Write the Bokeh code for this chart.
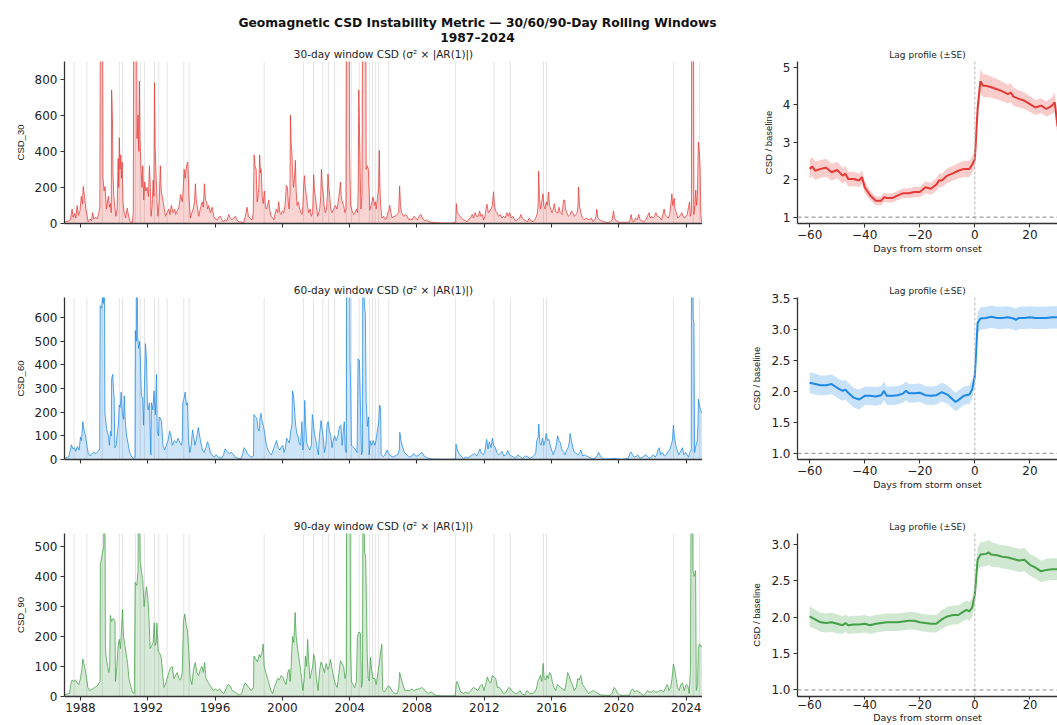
import numpy as np
from bokeh.plotting import figure
from bokeh.layouts import column, row
from bokeh.models import (Range1d, FixedTicker, Label, Span, CustomJSTickFormatter,
                          PrintfTickFormatter, Title)
from bokeh.embed import file_html
from bokeh.resources import INLINE

# ---------------- data ----------------
TITLE = "Geomagnetic CSD Instability Metric \u2014 30/60/90-Day Rolling Windows"
SUBTITLE = "1987\u20132024"

storm_years = [1987.62, 1988.38, 1989.29, 1990.31, 1990.50, 1991.27, 1991.55, 1991.80,
               1992.40, 1992.65, 1993.15, 1994.14, 1994.45, 1998.92, 2001.25, 2001.85,
               2002.40, 2002.75, 2003.10, 2003.80, 2004.10, 2004.56, 2005.17, 2005.36,
               2005.52, 2005.72, 2006.32, 2010.30, 2012.58, 2013.55, 2015.52, 2015.70,
               2023.25, 2024.42, 2024.80]

csd30_pts = [
    (1987.00, 8), (1987.25, 12), (1987.40, 20), (1987.50, 80), (1987.56, 35), (1987.65, 55),
    (1987.72, 30), (1987.80, 100), (1987.88, 45), (1987.97, 70), (1988.05, 150), (1988.12, 110),
    (1988.16, 205), (1988.24, 150), (1988.32, 80), (1988.40, 40), (1988.46, 10), (1988.58, 25),
    (1988.66, 15), (1988.72, 60), (1988.80, 25), (1988.90, 35), (1989.00, 25), (1989.08, 55),
    (1989.15, 90), (1989.19, 1400), (1989.31, 1400), (1989.34, 250), (1989.40, 180), (1989.46, 205),
    (1989.54, 80), (1989.60, 120), (1989.66, 150), (1989.72, 90), (1989.78, 110), (1989.83, 60),
    (1989.85, 740), (1989.90, 580), (1989.93, 280), (1989.98, 150), (1990.03, 100), (1990.10, 40),
    (1990.18, 80), (1990.24, 360), (1990.27, 200), (1990.31, 475), (1990.35, 300), (1990.40, 380),
    (1990.43, 250), (1990.48, 340), (1990.53, 120), (1990.60, 60), (1990.68, 30), (1990.78, 85),
    (1990.86, 40), (1990.95, 10), (1991.08, 5), (1991.14, 60), (1991.17, 1400), (1991.33, 1400),
    (1991.36, 470), (1991.42, 600), (1991.46, 400), (1991.50, 790), (1991.54, 470), (1991.60, 300),
    (1991.66, 200), (1991.70, 320), (1991.76, 130), (1991.82, 230), (1991.88, 180), (1991.96, 200),
    (1992.04, 150), (1992.10, 320), (1992.15, 200), (1992.20, 40), (1992.26, 100), (1992.32, 240),
    (1992.36, 150), (1992.40, 780), (1992.44, 420), (1992.50, 250), (1992.55, 120), (1992.60, 40),
    (1992.68, 120), (1992.75, 320), (1992.80, 180), (1992.86, 150), (1992.95, 100), (1993.05, 40),
    (1993.15, 60), (1993.25, 80), (1993.32, 50), (1993.40, 100), (1993.50, 60), (1993.60, 80),
    (1993.66, 50), (1993.75, 70), (1993.85, 90), (1993.95, 160), (1994.05, 120), (1994.10, 180),
    (1994.16, 300), (1994.22, 250), (1994.30, 320), (1994.38, 340), (1994.45, 150), (1994.53, 30),
    (1994.62, 60), (1994.70, 80), (1994.78, 120), (1994.83, 220), (1994.88, 130), (1994.93, 100),
    (1995.03, 40), (1995.12, 80), (1995.23, 120), (1995.30, 90), (1995.37, 220), (1995.43, 130),
    (1995.49, 120), (1995.56, 80), (1995.62, 100), (1995.72, 60), (1995.82, 90), (1995.92, 40),
    (1996.02, 25), (1996.12, 20), (1996.22, 35), (1996.32, 40), (1996.40, 20), (1996.48, 10),
    (1996.60, 20), (1996.70, 15), (1996.81, 50), (1996.90, 30), (1997.00, 20), (1997.10, 30),
    (1997.20, 40), (1997.30, 20), (1997.40, 10), (1997.55, 8), (1997.70, 5), (1997.80, 40),
    (1997.90, 90), (1997.98, 40), (1998.06, 30), (1998.20, 20), (1998.27, 60), (1998.32, 380),
    (1998.37, 320), (1998.44, 300), (1998.50, 120), (1998.55, 150), (1998.60, 200), (1998.65, 380),
    (1998.70, 280), (1998.74, 300), (1998.80, 150), (1998.86, 110), (1998.93, 180), (1999.00, 90),
    (1999.05, 80), (1999.12, 100), (1999.19, 130), (1999.26, 70), (1999.33, 40), (1999.42, 30),
    (1999.49, 20), (1999.56, 50), (1999.64, 80), (1999.72, 60), (1999.78, 120), (1999.85, 60),
    (1999.92, 50), (2000.00, 70), (2000.08, 60), (2000.16, 100), (2000.24, 210), (2000.30, 200),
    (2000.35, 120), (2000.40, 80), (2000.45, 160), (2000.48, 600), (2000.52, 450), (2000.56, 400),
    (2000.60, 300), (2000.66, 200), (2000.72, 250), (2000.77, 350), (2000.82, 180), (2000.87, 100),
    (2000.95, 120), (2001.03, 80), (2001.10, 60), (2001.17, 50), (2001.22, 100), (2001.27, 220),
    (2001.31, 265), (2001.36, 200), (2001.43, 150), (2001.50, 90), (2001.57, 60), (2001.65, 80),
    (2001.72, 40), (2001.80, 60), (2001.86, 270), (2001.91, 180), (2001.96, 150), (2002.03, 90),
    (2002.10, 40), (2002.16, 60), (2002.22, 80), (2002.28, 150), (2002.32, 300), (2002.37, 200),
    (2002.42, 180), (2002.48, 100), (2002.55, 60), (2002.62, 80), (2002.67, 150), (2002.71, 275),
    (2002.76, 200), (2002.81, 150), (2002.88, 80), (2002.95, 60), (2003.05, 80), (2003.15, 100),
    (2003.25, 80), (2003.35, 140), (2003.40, 180), (2003.45, 230), (2003.50, 150), (2003.56, 120),
    (2003.64, 100), (2003.72, 60), (2003.78, 80), (2003.81, 1400), (2003.97, 1400), (2003.99, 440),
    (2004.02, 250), (2004.06, 100), (2004.14, 70), (2004.24, 50), (2004.32, 60), (2004.40, 80),
    (2004.47, 60), (2004.51, 200), (2004.54, 740), (2004.59, 478), (2004.63, 250), (2004.67, 80),
    (2004.73, 150), (2004.78, 1400), (2004.95, 1400), (2004.98, 300), (2005.05, 320), (2005.11, 300),
    (2005.15, 200), (2005.19, 73), (2005.27, 100), (2005.33, 120), (2005.39, 147), (2005.47, 100),
    (2005.53, 120), (2005.58, 80), (2005.66, 150), (2005.72, 200), (2005.76, 404), (2005.80, 200),
    (2005.84, 100), (2005.92, 30), (2006.02, 40), (2006.12, 20), (2006.20, 30), (2006.26, 60),
    (2006.33, 70), (2006.38, 100), (2006.45, 60), (2006.52, 30), (2006.62, 40), (2006.71, 40),
    (2006.80, 50), (2006.91, 60), (2006.97, 208), (2007.02, 100), (2007.08, 60), (2007.21, 40),
    (2007.32, 50), (2007.42, 40), (2007.52, 20), (2007.62, 25), (2007.72, 20), (2007.82, 40),
    (2007.92, 30), (2008.02, 20), (2008.12, 40), (2008.24, 50), (2008.34, 25), (2008.46, 15),
    (2008.58, 20), (2008.70, 10), (2008.84, 8), (2009.00, 5), (2009.20, 4), (2009.40, 3),
    (2009.60, 2), (2009.80, 3), (2010.00, 2), (2010.18, 4), (2010.30, 10), (2010.34, 110),
    (2010.40, 60), (2010.48, 50), (2010.56, 40), (2010.66, 30), (2010.76, 20), (2010.88, 15),
    (2010.98, 10), (2011.08, 25), (2011.18, 30), (2011.28, 50), (2011.36, 30), (2011.46, 60),
    (2011.54, 40), (2011.64, 40), (2011.72, 70), (2011.80, 40), (2011.88, 50), (2011.96, 20),
    (2012.04, 40), (2012.10, 80), (2012.16, 107), (2012.24, 60), (2012.32, 70), (2012.40, 80),
    (2012.48, 100), (2012.55, 175), (2012.60, 110), (2012.67, 70), (2012.75, 60), (2012.85, 40),
    (2012.95, 50), (2013.05, 30), (2013.15, 40), (2013.25, 30), (2013.35, 60), (2013.43, 40),
    (2013.51, 60), (2013.60, 30), (2013.70, 40), (2013.80, 20), (2013.90, 15), (2014.00, 25),
    (2014.10, 30), (2014.17, 50), (2014.27, 30), (2014.37, 20), (2014.47, 15), (2014.57, 10),
    (2014.67, 30), (2014.77, 15), (2014.90, 10), (2015.00, 20), (2015.10, 40), (2015.16, 60),
    (2015.20, 100), (2015.23, 290), (2015.28, 150), (2015.34, 80), (2015.42, 120), (2015.49, 165),
    (2015.54, 100), (2015.61, 80), (2015.68, 120), (2015.75, 100), (2015.82, 175), (2015.88, 100),
    (2015.94, 80), (2016.02, 60), (2016.10, 80), (2016.16, 110), (2016.23, 70), (2016.30, 60),
    (2016.38, 60), (2016.44, 90), (2016.52, 60), (2016.62, 50), (2016.71, 129), (2016.77, 130),
    (2016.83, 80), (2016.90, 60), (2017.00, 40), (2017.10, 50), (2017.18, 70), (2017.26, 60),
    (2017.36, 40), (2017.44, 50), (2017.52, 60), (2017.57, 100), (2017.60, 202), (2017.66, 100),
    (2017.74, 60), (2017.84, 30), (2017.94, 20), (2018.04, 30), (2018.14, 25), (2018.24, 20),
    (2018.36, 30), (2018.46, 10), (2018.56, 20), (2018.64, 40), (2018.69, 79), (2018.76, 30),
    (2018.86, 20), (2018.98, 15), (2019.08, 10), (2019.22, 8), (2019.36, 5), (2019.48, 10),
    (2019.60, 20), (2019.68, 70), (2019.74, 30), (2019.84, 15), (2019.96, 10), (2020.08, 5),
    (2020.22, 8), (2020.38, 5), (2020.52, 8), (2020.64, 10), (2020.73, 50), (2020.80, 15),
    (2020.90, 10), (2021.00, 30), (2021.10, 20), (2021.18, 50), (2021.26, 20), (2021.36, 15),
    (2021.48, 10), (2021.60, 20), (2021.70, 40), (2021.80, 60), (2021.86, 30), (2021.94, 40),
    (2022.02, 30), (2022.12, 40), (2022.20, 60), (2022.28, 40), (2022.36, 40), (2022.46, 30),
    (2022.54, 20), (2022.62, 50), (2022.69, 80), (2022.75, 50), (2022.84, 40), (2022.94, 30),
    (2023.02, 50), (2023.08, 100), (2023.12, 130), (2023.15, 165), (2023.20, 100), (2023.29, 140),
    (2023.34, 80), (2023.42, 60), (2023.50, 30), (2023.60, 40), (2023.68, 50), (2023.74, 60),
    (2023.82, 40), (2023.90, 30), (2023.98, 40), (2024.06, 50), (2024.14, 90), (2024.20, 120),
    (2024.25, 40), (2024.31, 60), (2024.33, 1400), (2024.43, 1400), (2024.46, 50), (2024.52, 100),
    (2024.57, 185), (2024.62, 100), (2024.67, 150), (2024.72, 450), (2024.78, 400), (2024.83, 300),
    (2024.87, 50), (2024.92, 10), (2024.97, 5),
]

csd60_pts = [
    (1987.00, 5), (1987.30, 10), (1987.40, 40), (1987.46, 62), (1987.55, 45), (1987.65, 50),
    (1987.72, 35), (1987.82, 55), (1987.92, 40), (1988.00, 95), (1988.06, 80), (1988.14, 160),
    (1988.22, 120), (1988.30, 100), (1988.40, 50), (1988.47, 25), (1988.58, 15), (1988.68, 25),
    (1988.80, 30), (1988.92, 25), (1989.05, 35), (1989.14, 45), (1989.17, 650), (1989.26, 640),
    (1989.32, 700), (1989.36, 660), (1989.42, 900), (1989.45, 200), (1989.52, 150), (1989.58, 120),
    (1989.66, 100), (1989.72, 60), (1989.78, 120), (1989.83, 100), (1989.85, 340), (1989.92, 360),
    (1989.96, 300), (1990.00, 260), (1990.04, 50), (1990.12, 60), (1990.20, 120), (1990.26, 150),
    (1990.30, 230), (1990.36, 220), (1990.42, 285), (1990.48, 200), (1990.56, 170), (1990.60, 270),
    (1990.66, 165), (1990.74, 100), (1990.82, 70), (1990.92, 30), (1991.05, 10), (1991.18, 5),
    (1991.24, 10), (1991.26, 545), (1991.32, 500), (1991.36, 900), (1991.40, 520), (1991.46, 470),
    (1991.52, 500), (1991.57, 400), (1991.62, 270), (1991.70, 260), (1991.75, 145), (1991.80, 300),
    (1991.86, 490), (1991.92, 430), (1991.98, 230), (1992.02, 210), (1992.10, 240), (1992.18, 20),
    (1992.22, 240), (1992.30, 210), (1992.37, 290), (1992.45, 190), (1992.52, 360), (1992.56, 120),
    (1992.63, 100), (1992.68, 180), (1992.75, 175), (1992.82, 160), (1992.90, 60), (1993.00, 40),
    (1993.10, 60), (1993.20, 80), (1993.30, 120), (1993.38, 100), (1993.46, 60), (1993.58, 80),
    (1993.70, 70), (1993.80, 90), (1993.92, 70), (1994.00, 60), (1994.05, 80), (1994.08, 240),
    (1994.16, 260), (1994.22, 285), (1994.30, 230), (1994.36, 240), (1994.42, 80), (1994.50, 30),
    (1994.58, 60), (1994.66, 125), (1994.72, 100), (1994.80, 60), (1994.90, 90), (1995.00, 135),
    (1995.08, 100), (1995.16, 70), (1995.25, 40), (1995.35, 30), (1995.45, 50), (1995.55, 75),
    (1995.62, 60), (1995.72, 30), (1995.85, 15), (1995.95, 10), (1996.05, 20), (1996.20, 10),
    (1996.38, 5), (1996.50, 20), (1996.60, 45), (1996.70, 35), (1996.82, 25), (1996.95, 30),
    (1997.05, 25), (1997.20, 10), (1997.38, 5), (1997.55, 3), (1997.66, 30), (1997.72, 50),
    (1997.82, 40), (1997.92, 25), (1998.05, 15), (1998.20, 10), (1998.28, 15), (1998.31, 190),
    (1998.40, 180), (1998.48, 175), (1998.55, 130), (1998.62, 120), (1998.68, 180), (1998.73, 195),
    (1998.80, 160), (1998.88, 140), (1998.95, 110), (1999.05, 60), (1999.15, 40), (1999.25, 25),
    (1999.35, 20), (1999.45, 40), (1999.55, 60), (1999.65, 80), (1999.75, 50), (1999.85, 40),
    (1999.95, 55), (2000.02, 60), (2000.10, 30), (2000.18, 50), (2000.25, 90), (2000.33, 80),
    (2000.42, 70), (2000.50, 120), (2000.57, 150), (2000.60, 290), (2000.66, 270), (2000.72, 220),
    (2000.78, 150), (2000.86, 110), (2000.93, 100), (2001.00, 70), (2001.08, 60), (2001.16, 160),
    (2001.22, 40), (2001.28, 80), (2001.33, 250), (2001.38, 150), (2001.45, 70), (2001.55, 50),
    (2001.63, 40), (2001.72, 60), (2001.78, 190), (2001.86, 140), (2001.93, 100), (2002.00, 80),
    (2002.08, 40), (2002.14, 20), (2002.20, 100), (2002.30, 165), (2002.36, 130), (2002.42, 100),
    (2002.50, 30), (2002.58, 60), (2002.66, 150), (2002.72, 160), (2002.80, 120), (2002.88, 100),
    (2002.95, 50), (2003.02, 80), (2003.10, 100), (2003.20, 80), (2003.30, 100), (2003.40, 140),
    (2003.48, 145), (2003.55, 60), (2003.62, 120), (2003.68, 160), (2003.74, 40), (2003.80, 30),
    (2003.82, 900), (2004.00, 900), (2004.02, 420), (2004.06, 290), (2004.10, 60), (2004.18, 55),
    (2004.26, 50), (2004.36, 40), (2004.44, 30), (2004.50, 425), (2004.58, 420), (2004.62, 290),
    (2004.70, 20), (2004.76, 30), (2004.78, 900), (2004.88, 640), (2004.93, 620), (2004.98, 250),
    (2005.05, 140), (2005.12, 180), (2005.16, 20), (2005.22, 80), (2005.30, 60), (2005.40, 80),
    (2005.50, 60), (2005.56, 80), (2005.66, 130), (2005.72, 150), (2005.78, 230), (2005.84, 220),
    (2005.87, 20), (2006.00, 12), (2006.10, 20), (2006.22, 40), (2006.32, 25), (2006.45, 15),
    (2006.58, 10), (2006.70, 15), (2006.85, 20), (2006.95, 40), (2006.98, 115), (2007.05, 80),
    (2007.12, 60), (2007.25, 30), (2007.40, 20), (2007.55, 10), (2007.70, 15), (2007.80, 25),
    (2007.92, 15), (2008.05, 15), (2008.18, 25), (2008.30, 30), (2008.42, 15), (2008.58, 8),
    (2008.75, 3), (2009.00, 2), (2009.50, 1), (2010.00, 1), (2010.28, 2), (2010.32, 65),
    (2010.40, 40), (2010.50, 25), (2010.62, 15), (2010.75, 5), (2010.90, 10), (2011.05, 8),
    (2011.20, 15), (2011.30, 20), (2011.42, 25), (2011.55, 15), (2011.66, 30), (2011.74, 45),
    (2011.84, 25), (2011.94, 20), (2012.05, 40), (2012.14, 85), (2012.22, 45), (2012.30, 75),
    (2012.40, 50), (2012.48, 90), (2012.56, 60), (2012.66, 50), (2012.74, 30), (2012.85, 20),
    (2012.95, 25), (2013.05, 35), (2013.15, 15), (2013.28, 20), (2013.40, 38), (2013.50, 20),
    (2013.62, 15), (2013.75, 10), (2013.86, 5), (2014.00, 20), (2014.12, 12), (2014.28, 5),
    (2014.45, 15), (2014.58, 12), (2014.70, 5), (2014.85, 10), (2015.00, 20), (2015.06, 30),
    (2015.12, 80), (2015.20, 95), (2015.24, 150), (2015.30, 70), (2015.38, 60), (2015.46, 90),
    (2015.54, 60), (2015.62, 80), (2015.68, 110), (2015.76, 80), (2015.84, 85), (2015.92, 60),
    (2016.00, 40), (2016.10, 20), (2016.20, 40), (2016.28, 60), (2016.36, 100), (2016.44, 80),
    (2016.52, 70), (2016.62, 40), (2016.72, 30), (2016.80, 20), (2016.90, 40), (2016.98, 50),
    (2017.05, 70), (2017.10, 110), (2017.18, 80), (2017.26, 50), (2017.36, 30), (2017.48, 25),
    (2017.58, 20), (2017.68, 30), (2017.74, 40), (2017.84, 15), (2017.96, 20), (2018.08, 15),
    (2018.22, 10), (2018.40, 5), (2018.58, 5), (2018.70, 15), (2018.80, 30), (2018.90, 15),
    (2019.05, 3), (2019.30, 2), (2019.55, 3), (2019.75, 5), (2019.92, 2), (2020.15, 1),
    (2020.35, 2), (2020.55, 5), (2020.65, 25), (2020.72, 32), (2020.82, 20), (2020.92, 10),
    (2021.05, 15), (2021.12, 20), (2021.25, 5), (2021.40, 10), (2021.50, 15), (2021.60, 20),
    (2021.72, 10), (2021.85, 5), (2021.98, 15), (2022.05, 20), (2022.15, 10), (2022.25, 20),
    (2022.32, 40), (2022.40, 50), (2022.48, 20), (2022.58, 30), (2022.70, 15), (2022.82, 20),
    (2022.92, 35), (2023.02, 40), (2023.10, 60), (2023.18, 80), (2023.24, 145), (2023.30, 100),
    (2023.38, 60), (2023.46, 40), (2023.56, 20), (2023.64, 30), (2023.72, 40), (2023.78, 50),
    (2023.86, 20), (2023.96, 30), (2024.06, 20), (2024.14, 10), (2024.22, 30), (2024.30, 40),
    (2024.32, 900), (2024.40, 700), (2024.42, 590), (2024.46, 580), (2024.50, 30), (2024.58, 60),
    (2024.66, 80), (2024.70, 150), (2024.73, 255), (2024.78, 230), (2024.84, 215), (2024.90, 200),
    (2024.96, 195),
]

csd90_pts = [
    (1987.00, 5), (1987.20, 8), (1987.35, 10), (1987.42, 40), (1987.50, 55), (1987.60, 50),
    (1987.70, 55), (1987.80, 45), (1987.90, 40), (1988.00, 60), (1988.08, 90), (1988.14, 125),
    (1988.20, 110), (1988.28, 90), (1988.36, 60), (1988.44, 30), (1988.55, 20), (1988.70, 25),
    (1988.85, 30), (1989.00, 35), (1989.10, 45), (1989.16, 50), (1989.18, 440), (1989.28, 470),
    (1989.38, 500), (1989.44, 900), (1989.48, 160), (1989.55, 120), (1989.62, 100), (1989.68, 80),
    (1989.74, 100), (1989.77, 270), (1989.85, 250), (1989.95, 260), (1990.05, 250), (1990.08, 50),
    (1990.16, 100), (1990.24, 170), (1990.30, 190), (1990.38, 160), (1990.44, 230), (1990.50, 290),
    (1990.56, 200), (1990.64, 170), (1990.72, 140), (1990.80, 110), (1990.88, 60), (1990.96, 40),
    (1991.08, 15), (1991.20, 10), (1991.25, 380), (1991.35, 370), (1991.42, 420), (1991.45, 900),
    (1991.55, 450), (1991.62, 420), (1991.70, 390), (1991.78, 300), (1991.86, 340), (1991.92, 365),
    (1992.00, 330), (1992.08, 250), (1992.14, 160), (1992.24, 170), (1992.32, 180), (1992.38, 245),
    (1992.44, 170), (1992.50, 180), (1992.54, 245), (1992.62, 150), (1992.70, 145), (1992.80, 130),
    (1992.88, 80), (1992.96, 30), (1993.05, 40), (1993.15, 60), (1993.25, 80), (1993.35, 95),
    (1993.45, 100), (1993.55, 60), (1993.65, 70), (1993.75, 80), (1993.85, 60), (1993.95, 55),
    (1994.05, 80), (1994.12, 250), (1994.20, 275), (1994.28, 240), (1994.36, 220), (1994.44, 150),
    (1994.52, 60), (1994.62, 40), (1994.72, 90), (1994.82, 113), (1994.92, 80), (1995.02, 70),
    (1995.12, 90), (1995.22, 100), (1995.30, 80), (1995.38, 113), (1995.46, 60), (1995.56, 50),
    (1995.66, 40), (1995.78, 30), (1995.90, 20), (1996.02, 25), (1996.15, 20), (1996.28, 25),
    (1996.40, 15), (1996.52, 10), (1996.65, 25), (1996.78, 40), (1996.90, 35), (1997.02, 20),
    (1997.15, 15), (1997.30, 10), (1997.45, 5), (1997.58, 10), (1997.68, 30), (1997.78, 45),
    (1997.88, 40), (1998.00, 30), (1998.15, 20), (1998.28, 30), (1998.31, 135), (1998.42, 125),
    (1998.52, 115), (1998.62, 140), (1998.70, 130), (1998.80, 150), (1998.86, 175), (1998.92, 100),
    (1999.02, 80), (1999.12, 60), (1999.22, 40), (1999.32, 20), (1999.42, 10), (1999.52, 30),
    (1999.62, 45), (1999.72, 60), (1999.82, 55), (1999.92, 70), (2000.02, 65), (2000.12, 50),
    (2000.22, 40), (2000.32, 80), (2000.40, 90), (2000.46, 50), (2000.52, 100), (2000.60, 200),
    (2000.68, 180), (2000.76, 280), (2000.82, 200), (2000.90, 160), (2000.98, 130), (2001.06, 100),
    (2001.14, 60), (2001.22, 20), (2001.30, 60), (2001.37, 135), (2001.44, 100), (2001.50, 190),
    (2001.56, 120), (2001.64, 60), (2001.72, 80), (2001.80, 100), (2001.86, 141), (2001.94, 120),
    (2002.02, 60), (2002.12, 20), (2002.22, 90), (2002.30, 115), (2002.40, 100), (2002.50, 80),
    (2002.60, 110), (2002.70, 90), (2002.78, 100), (2002.86, 124), (2002.96, 90), (2003.06, 60),
    (2003.16, 40), (2003.26, 30), (2003.36, 80), (2003.45, 119), (2003.55, 110), (2003.64, 100),
    (2003.72, 60), (2003.80, 80), (2003.83, 900), (2004.02, 900), (2004.05, 150), (2004.10, 50),
    (2004.20, 40), (2004.30, 30), (2004.40, 50), (2004.46, 200), (2004.56, 215), (2004.64, 210),
    (2004.70, 30), (2004.76, 50), (2004.80, 900), (2004.88, 485), (2004.95, 460), (2005.00, 300),
    (2005.04, 143), (2005.10, 60), (2005.16, 52), (2005.24, 130), (2005.30, 90), (2005.38, 60),
    (2005.48, 60), (2005.58, 40), (2005.68, 80), (2005.76, 110), (2005.84, 150), (2005.91, 174),
    (2005.96, 20), (2006.06, 15), (2006.18, 25), (2006.30, 35), (2006.42, 30), (2006.55, 15),
    (2006.68, 10), (2006.82, 10), (2006.92, 30), (2006.97, 80), (2007.06, 60), (2007.16, 40),
    (2007.28, 20), (2007.40, 20), (2007.55, 20), (2007.70, 25), (2007.85, 20), (2008.00, 25),
    (2008.15, 25), (2008.28, 30), (2008.40, 25), (2008.55, 15), (2008.70, 10), (2008.85, 15),
    (2009.00, 8), (2009.15, 3), (2009.50, 2), (2009.80, 2), (2010.10, 2), (2010.28, 3),
    (2010.32, 40), (2010.38, 50), (2010.48, 35), (2010.60, 15), (2010.75, 10), (2010.90, 15),
    (2011.05, 10), (2011.20, 20), (2011.35, 30), (2011.50, 25), (2011.62, 20), (2011.75, 35),
    (2011.88, 40), (2011.98, 20), (2012.08, 40), (2012.18, 65), (2012.28, 50), (2012.38, 45),
    (2012.48, 70), (2012.58, 65), (2012.68, 60), (2012.78, 30), (2012.90, 30), (2013.02, 20),
    (2013.15, 10), (2013.30, 15), (2013.45, 30), (2013.58, 25), (2013.70, 15), (2013.85, 10),
    (2014.00, 12), (2014.12, 20), (2014.25, 8), (2014.40, 5), (2014.55, 20), (2014.70, 10),
    (2014.85, 10), (2015.00, 15), (2015.10, 25), (2015.18, 50), (2015.26, 60), (2015.34, 70),
    (2015.42, 50), (2015.50, 110), (2015.56, 60), (2015.64, 55), (2015.72, 70), (2015.80, 60),
    (2015.88, 80), (2015.96, 75), (2016.04, 50), (2016.14, 30), (2016.24, 20), (2016.34, 40),
    (2016.44, 35), (2016.54, 30), (2016.66, 25), (2016.78, 20), (2016.88, 50), (2016.96, 80),
    (2017.04, 70), (2017.14, 50), (2017.24, 40), (2017.34, 20), (2017.46, 30), (2017.56, 60),
    (2017.64, 55), (2017.74, 70), (2017.84, 40), (2017.96, 30), (2018.08, 20), (2018.20, 10),
    (2018.34, 15), (2018.48, 20), (2018.62, 15), (2018.76, 10), (2018.90, 5), (2019.05, 5),
    (2019.25, 4), (2019.45, 3), (2019.60, 10), (2019.72, 30), (2019.80, 25), (2019.92, 10),
    (2020.06, 5), (2020.25, 3), (2020.45, 5), (2020.62, 3), (2020.72, 20), (2020.82, 25),
    (2020.94, 15), (2021.05, 20), (2021.18, 15), (2021.32, 10), (2021.46, 3), (2021.58, 10),
    (2021.70, 20), (2021.82, 15), (2021.94, 15), (2022.06, 20), (2022.18, 15), (2022.30, 15),
    (2022.42, 20), (2022.54, 20), (2022.66, 15), (2022.78, 30), (2022.88, 40), (2022.98, 20),
    (2023.08, 30), (2023.16, 60), (2023.24, 108), (2023.32, 90), (2023.40, 60), (2023.48, 30),
    (2023.58, 20), (2023.68, 40), (2023.78, 45), (2023.88, 20), (2024.00, 40), (2024.10, 35),
    (2024.18, 10), (2024.26, 100), (2024.30, 900), (2024.38, 900), (2024.40, 420), (2024.48, 400),
    (2024.56, 420), (2024.60, 20), (2024.68, 40), (2024.72, 160), (2024.80, 175), (2024.88, 165),
    (2024.97, 170),
]

# lag profiles (days from storm onset, mean CSD / baseline, standard error)
lag_days_30 = [-60, -59, -58, -56, -54, -52, -50, -48, -47, -46, -44, -42, -41, -40, -38, -36, -34,
               -33, -32, -30, -28, -26, -24, -22, -20, -19, -18, -16, -14, -13, -12, -10, -8, -6,
               -4, -2, -1, 0, 1, 2, 3, 4, 6, 8, 10, 12, 13, 14, 16, 18, 20, 22, 24, 26, 28, 29, 30, 31]
lag_mean_30 = [2.29, 2.35, 2.24, 2.29, 2.32, 2.20, 2.26, 2.11, 2.16, 2.02, 2.02, 1.98, 2.07, 1.80,
               1.58, 1.44, 1.44, 1.53, 1.51, 1.51, 1.58, 1.64, 1.64, 1.67, 1.67, 1.73, 1.80, 1.76,
               1.87, 1.98, 1.98, 2.11, 2.17, 2.24, 2.29, 2.29, 2.40, 2.55, 3.90, 4.63, 4.51, 4.51,
               4.47, 4.42, 4.36, 4.29, 4.33, 4.22, 4.16, 4.11, 4.02, 3.93, 3.98, 3.89, 3.98, 4.07,
               3.44, 3.30]
lag_se_30 = [0.26, 0.26, 0.25, 0.24, 0.24, 0.23, 0.22, 0.21, 0.21, 0.20, 0.19, 0.18, 0.18, 0.16,
             0.13, 0.12, 0.12, 0.12, 0.12, 0.12, 0.12, 0.13, 0.13, 0.14, 0.14, 0.15, 0.16, 0.16,
             0.17, 0.18, 0.18, 0.20, 0.20, 0.21, 0.22, 0.22, 0.22, 0.24, 0.30, 0.32, 0.30, 0.30,
             0.28, 0.27, 0.26, 0.25, 0.25, 0.24, 0.23, 0.22, 0.21, 0.20, 0.20, 0.20, 0.22, 0.26,
             0.28, 0.28]

lag_days_60 = [-60, -58, -56, -54, -52, -50, -48, -47, -46, -44, -42, -40, -38, -36, -34, -33, -32,
               -30, -28, -26, -25, -24, -22, -20, -18, -16, -14, -12, -10, -8, -7, -6, -4, -2, -1,
               0, 1, 2, 4, 6, 8, 10, 12, 14, 15, 16, 18, 20, 22, 24, 26, 28, 30, 32]
lag_mean_60 = [2.14, 2.12, 2.10, 2.10, 2.12, 2.06, 2.01, 2.03, 1.98, 1.90, 1.87, 1.93, 1.93, 1.92,
               1.94, 2.01, 1.93, 1.93, 1.94, 1.97, 2.01, 1.97, 1.97, 1.98, 1.94, 1.93, 1.94, 1.99,
               1.95, 1.87, 1.83, 1.86, 1.93, 1.95, 2.03, 2.25, 3.11, 3.18, 3.19, 3.21, 3.19, 3.19,
               3.20, 3.18, 3.16, 3.19, 3.19, 3.20, 3.19, 3.19, 3.19, 3.20, 3.20, 3.20]
lag_se_60 = [0.17, 0.17, 0.16, 0.16, 0.16, 0.16, 0.16, 0.16, 0.16, 0.16, 0.16, 0.15, 0.15, 0.15,
             0.15, 0.15, 0.15, 0.15, 0.15, 0.15, 0.15, 0.15, 0.15, 0.15, 0.15, 0.15, 0.15, 0.15,
             0.15, 0.15, 0.15, 0.15, 0.15, 0.15, 0.15, 0.16, 0.17, 0.18, 0.18, 0.18, 0.18, 0.18,
             0.18, 0.18, 0.18, 0.18, 0.18, 0.18, 0.18, 0.18, 0.18, 0.18, 0.18, 0.18]

lag_days_90 = [-60, -58, -56, -54, -52, -50, -48, -47, -46, -44, -42, -40, -38, -36, -34, -32, -30,
               -28, -26, -24, -22, -20, -18, -16, -14, -12, -10, -8, -6, -4, -3, -2, -1, 0, 1, 2,
               4, 5, 6, 8, 10, 12, 14, 16, 18, 20, 22, 24, 26, 28, 30, 32]
lag_mean_90 = [2.01, 1.97, 1.93, 1.92, 1.93, 1.91, 1.89, 1.92, 1.89, 1.90, 1.90, 1.91, 1.89, 1.91,
               1.92, 1.93, 1.93, 1.93, 1.94, 1.95, 1.95, 1.93, 1.92, 1.91, 1.91, 1.97, 2.01, 2.03,
               2.03, 2.08, 2.10, 2.08, 2.13, 2.31, 2.79, 2.86, 2.87, 2.89, 2.86, 2.85, 2.83, 2.82,
               2.80, 2.78, 2.79, 2.72, 2.68, 2.63, 2.65, 2.66, 2.66, 2.67]
lag_se_90 = [0.14, 0.13, 0.13, 0.13, 0.13, 0.13, 0.12, 0.12, 0.12, 0.12, 0.12, 0.12, 0.12, 0.12,
             0.12, 0.12, 0.12, 0.12, 0.12, 0.12, 0.12, 0.12, 0.12, 0.12, 0.12, 0.13, 0.13, 0.13,
             0.13, 0.13, 0.13, 0.13, 0.13, 0.14, 0.16, 0.17, 0.17, 0.17, 0.17, 0.16, 0.16, 0.16,
             0.16, 0.16, 0.16, 0.15, 0.15, 0.15, 0.15, 0.15, 0.15, 0.15]

window_labels = ["30-day window CSD (\u03c3\u00b2 \u00d7 |AR(1)|)",
                 "60-day window CSD (\u03c3\u00b2 \u00d7 |AR(1)|)",
                 "90-day window CSD (\u03c3\u00b2 \u00d7 |AR(1)|)"]
y_names = ["CSD_30", "CSD_60", "CSD_90"]
year_ticks = [1988, 1992, 1996, 2000, 2004, 2008, 2012, 2016, 2020, 2024]

# ---------------- styling ----------------
COLORS = ["#E53935", "#1E88E5", "#43A047"]
FONT = "DejaVu Sans"
LABEL_FONT = "Liberation Sans"
AXC = "#333333"

LEFT_W, RIGHT_W = 702, 355
LEFT_B, RIGHT_B = 64, 95
ROW_H = [236, 236, 209]
TOP_B = 17
BOTTOM_B = [57, 57, 29]


def style_axes(p, show_xlabels=True, compact=False):
    p.outline_line_color = None
    p.xgrid.visible = False
    p.ygrid.visible = False
    for ax in (p.xaxis[0], p.yaxis[0]):
        ax.axis_line_color = AXC
        ax.axis_line_width = 1.3
        ax.major_tick_line_color = AXC
        ax.major_tick_line_width = 1.1
        ax.major_tick_out = 4
        ax.major_tick_in = 0
        ax.minor_tick_line_color = None
        ax.major_label_text_font = FONT
        ax.major_label_text_font_size = "12px"
        ax.major_label_text_color = "#222222"
        ax.major_label_standoff = 2
    p.yaxis[0].major_label_standoff = 3
    if compact:
        p.xaxis[0].major_label_standoff = 0
        p.xaxis[0].major_label_text_font_size = "11.5px"
        p.xaxis[0].major_tick_out = 3
    if not show_xlabels:
        p.xaxis[0].major_label_text_color = None
    for ax in (p.xaxis[0], p.yaxis[0]):
        ax.axis_label_text_font_style = "normal"
        ax.axis_label_text_color = "#222222"
    p.yaxis[0].axis_label_text_font = LABEL_FONT
    p.yaxis[0].axis_label_text_font_size = "9.5px"
    p.yaxis[0].axis_label_standoff = 6


def add_title(p, text, size, offset=0):
    p.add_layout(Title(text=text, align="center", text_font=FONT, text_font_size=size,
                       text_font_style="normal", text_color="#222222", standoff=3,
                       offset=offset), "above")


def left_panel(i, pts, ymax, yticks):
    t = [a for a, b in pts]
    v = [b for a, b in pts]
    color = COLORS[i]
    p = figure(width=LEFT_W, height=ROW_H[i], x_range=Range1d(1987.05, 2024.97),
               y_range=Range1d(0, ymax), output_backend="svg", toolbar_location=None,
               min_border_left=LEFT_B, min_border_right=0, min_border_top=TOP_B,
               min_border_bottom=BOTTOM_B[i])
    p.segment(x0=storm_years, y0=[0] * len(storm_years), x1=storm_years,
              y1=[ymax] * len(storm_years), line_color="#e4e4e4", line_width=1)
    p.varea(x=t, y1=0, y2=v, fill_color=color, fill_alpha=0.22)
    p.line(t, v, line_color=color, line_width=1, line_alpha=0.75)
    style_axes(p, show_xlabels=(i == 2))
    p.xaxis[0].ticker = FixedTicker(ticks=year_ticks)
    p.yaxis[0].ticker = FixedTicker(ticks=yticks)
    p.yaxis[0].axis_label = y_names[i]
    add_title(p, window_labels[i], "10.5px")
    return p


def right_panel(i, days, mean, se, yr, yticks, fmt):
    color = COLORS[i]
    days = np.array(days, dtype=float)
    mean = np.array(mean)
    se = np.array(se)
    p = figure(width=RIGHT_W, height=ROW_H[i], x_range=Range1d(-64.4, 30.0),
               y_range=Range1d(*yr), output_backend="svg", toolbar_location=None,
               min_border_left=RIGHT_B, min_border_right=0, min_border_top=TOP_B,
               min_border_bottom=BOTTOM_B[i])
    p.add_layout(Span(location=0, dimension="height", line_color="#b5b5b5",
                      line_dash="3 2", line_width=1))
    p.add_layout(Span(location=1.0, dimension="width", line_color="#8a8a8a",
                      line_dash="4 3", line_width=1))
    p.varea(x=days, y1=mean - se, y2=mean + se, fill_color=color, fill_alpha=0.25)
    p.line(days, mean, line_color=color, line_width=2)
    style_axes(p, compact=(i == 2))
    p.xaxis[0].ticker = FixedTicker(ticks=[-60, -40, -20, 0, 20])
    p.xaxis[0].formatter = CustomJSTickFormatter(
        code="return tick < 0 ? '\\u2212' + (-tick) : '' + tick;")
    p.yaxis[0].ticker = FixedTicker(ticks=yticks)
    if fmt:
        p.yaxis[0].formatter = PrintfTickFormatter(format=fmt)
    p.yaxis[0].axis_label = "CSD / baseline"
    p.xaxis[0].axis_label = "Days from storm onset"
    p.xaxis[0].axis_label_text_font = FONT
    p.xaxis[0].axis_label_text_font_size = "9.5px"
    p.xaxis[0].axis_label_standoff = 0 if i == 2 else 1
    add_title(p, "Lag profile (\u00b1SE)", "9px", offset=6)
    return p


# ---------------- build ----------------
title_fig = figure(width=LEFT_W + RIGHT_W, height=44, x_range=Range1d(0, 1), y_range=Range1d(0, 1),
                   output_backend="svg", toolbar_location=None, min_border=0)
title_fig.axis.visible = False
title_fig.grid.visible = False
title_fig.outline_line_color = None
title_fig.add_layout(Label(x=477, y=22, x_units="screen", y_units="screen", text=TITLE,
                           text_align="center", text_baseline="middle", text_font=FONT,
                           text_font_size="12.3px", text_font_style="bold", text_color="#111111"))
title_fig.add_layout(Label(x=477, y=7, x_units="screen", y_units="screen", text=SUBTITLE,
                           text_align="center", text_baseline="middle", text_font=FONT,
                           text_font_size="12.3px", text_font_style="bold", text_color="#111111"))

l1 = left_panel(0, csd30_pts, 897, [0, 200, 400, 600, 800])
l2 = left_panel(1, csd60_pts, 685, [0, 100, 200, 300, 400, 500, 600])
l3 = left_panel(2, csd90_pts, 543, [0, 100, 200, 300, 400, 500])

r1 = right_panel(0, lag_days_30, lag_mean_30, lag_se_30, (0.83, 5.16), [1, 2, 3, 4, 5], None)
r2 = right_panel(1, lag_days_60, lag_mean_60, lag_se_60, (0.90, 3.52),
                 [1.0, 1.5, 2.0, 2.5, 3.0, 3.5], "%.1f")
r3 = right_panel(2, lag_days_90, lag_mean_90, lag_se_90, (0.91, 3.15),
                 [1.0, 1.5, 2.0, 2.5, 3.0], "%.1f")

p = column(title_fig, row(l1, r1), row(l2, r2), row(l3, r3))

open("out.html", "w").write(file_html(p, INLINE))
